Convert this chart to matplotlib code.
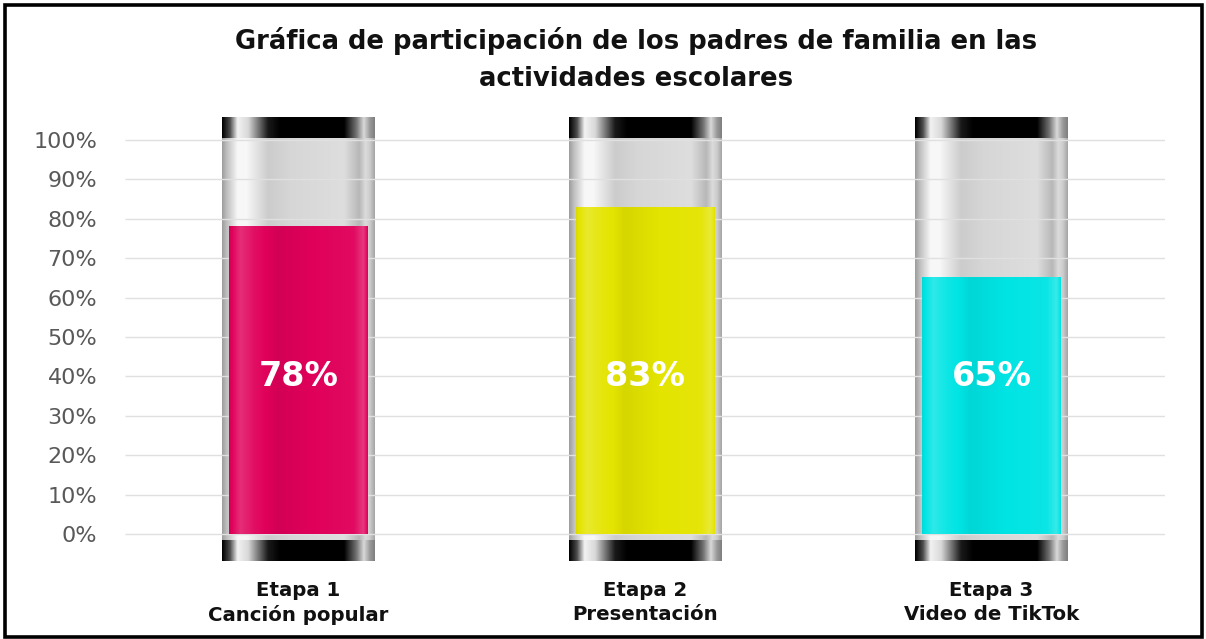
import numpy as np
import matplotlib
matplotlib.use('Agg')
import matplotlib.pyplot as plt
from matplotlib.patches import Rectangle

categories = ['Etapa 1\nCanción popular', 'Etapa 2\nPresentación', 'Etapa 3\nVideo de TikTok']
values = [78, 83, 65]
value_labels = ['78%', '83%', '65%']
bar_colors = [(224, 0, 90), (228, 228, 0), (0, 228, 228)]
y_ticks = list(range(0, 101, 10))
y_tick_labels = [f'{t}%' for t in y_ticks]
title = 'Gráfica de participación de los padres de familia en las\nactividades escolares'

# horizontal shading profiles (position across the tube, level)
tube_profile = [(0.00, 0.62), (0.03, 0.75), (0.10, 0.97), (0.16, 0.97), (0.30, 0.80),
                (0.45, 0.84), (0.80, 0.87), (0.90, 0.72), (0.94, 0.86), (0.97, 0.80), (1.00, 0.65)]
cap_profile = [(0.00, 0.0), (0.05, 0.3), (0.10, 0.95), (0.17, 0.85), (0.30, 0.1), (0.38, 0.0),
               (0.80, 0.0), (0.88, 0.45), (0.93, 0.85), (0.97, 0.6), (1.00, 0.5)]
fill_profile = [(0.00, -0.05), (0.08, 0.18), (0.18, 0.06), (0.35, -0.06), (0.60, 0.0),
                (0.90, 0.04), (0.97, 0.22), (1.00, 0.0)]


def gray_strip(profile, n=200):
    pos, lev = zip(*profile)
    g = np.interp(np.linspace(0, 1, n), pos, lev)
    return np.dstack([g, g, g])


def color_strip(profile, rgb, n=200):
    pos, lev = zip(*profile)
    f = np.interp(np.linspace(0, 1, n), pos, lev)
    base = np.array(rgb) / 255.0
    out = np.empty((1, n, 3))
    for i, k in enumerate(f):
        if k >= 0:
            out[0, i] = base + (1 - base) * k
        else:
            out[0, i] = base * (1 + k)
    return np.clip(out, 0, 1)


fig = plt.figure(figsize=(12.06, 6.39), dpi=100)
ax = fig.add_axes([125 / 1206, 0.115, (1165 - 125) / 1206, 0.709])

tube_w = 0.44
fill_w = 0.40
for i, (v, c) in enumerate(zip(values, bar_colors)):
    # glass tube
    ax.imshow(gray_strip(tube_profile), extent=(i - tube_w / 2, i + tube_w / 2, -1.8, 100.5),
              aspect='auto', interpolation='bilinear', zorder=1)
    # coloured fill
    ax.imshow(color_strip(fill_profile, c), extent=(i - fill_w / 2, i + fill_w / 2, 0, v),
              aspect='auto', interpolation='bilinear', zorder=3)
    # black caps
    ax.imshow(gray_strip(cap_profile), extent=(i - tube_w / 2, i + tube_w / 2, 100.5, 105.8),
              aspect='auto', interpolation='bilinear', zorder=4)
    ax.imshow(gray_strip(cap_profile), extent=(i - tube_w / 2, i + tube_w / 2, -6.9, -1.8),
              aspect='auto', interpolation='bilinear', zorder=4)
    ax.text(i, 40, value_labels[i], ha='center', va='center', color='white',
            fontsize=24, fontweight='bold', zorder=5)

ax.hlines(y_ticks, -0.5, 2.5, color='#e0e0e0', linewidth=1, zorder=2)

ax.set_xlim(-0.5, 2.5)
ax.set_ylim(-8, 107)
ax.set_yticks(y_ticks)
ax.set_yticklabels(y_tick_labels, fontsize=16, color='#595959')
ax.set_xticks(range(len(categories)))
ax.set_xticklabels(categories, fontsize=14.2, fontweight='bold', color='#111111', linespacing=1.35)
ax.tick_params(axis='y', length=0, pad=20)
ax.tick_params(axis='x', length=0, pad=11)
for s in ax.spines.values():
    s.set_visible(False)

fig.text(636 / 1206, 1 - 27 / 639, title, ha='center', va='top',
         fontsize=18.6, fontweight='bold', color='#111111', linespacing=1.55)

# black frame round the picture
fig.patches.append(Rectangle((5 / 1206, 2 / 639), 1197 / 1206, 632 / 639, transform=fig.transFigure,
                             fill=False, edgecolor='black', linewidth=2.6))

fig.savefig('out.png', dpi=100)
